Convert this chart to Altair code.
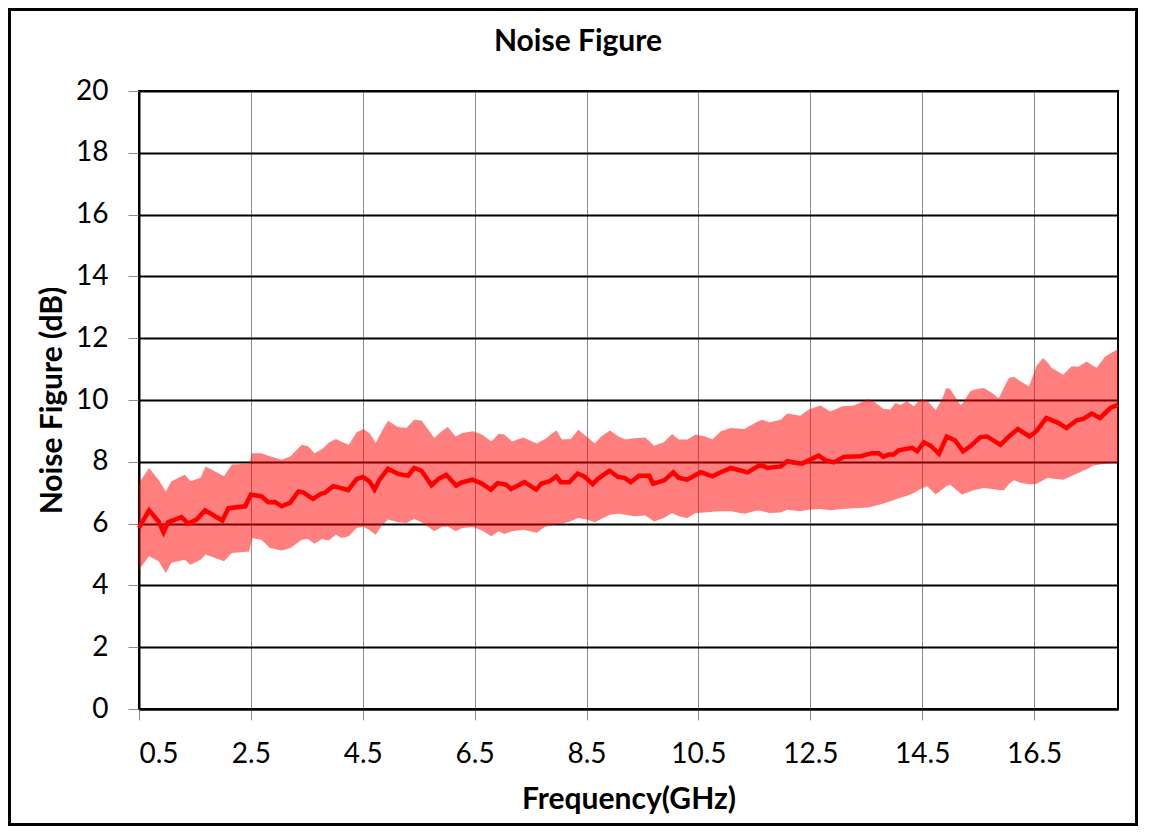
import altair as alt
import pandas as pd

# Mean noise figure trace (GHz, dB)
mean_freq = [0.50,0.68,0.85,0.94,1.02,1.26,1.38,1.53,1.68,1.86,
             1.99,2.10,2.40,2.50,2.69,2.81,2.93,3.05,3.20,3.35,
             3.43,3.61,3.76,3.82,3.97,4.12,4.24,4.39,4.50,4.62,
             4.71,4.80,4.95,5.13,5.31,5.42,5.55,5.73,5.85,5.99,
             6.17,6.26,6.46,6.61,6.79,6.91,7.06,7.15,7.39,7.60,
             7.69,7.84,7.96,8.04,8.19,8.34,8.46,8.61,8.70,8.91,
             9.06,9.18,9.29,9.44,9.62,9.69,9.89,10.05,10.15,10.30,
             10.54,10.75,10.90,11.08,11.38,11.61,11.73,11.97,12.09,12.20,
             12.35,12.50,12.65,12.77,12.92,13.10,13.40,13.60,13.72,13.81,
             13.90,13.99,14.08,14.32,14.41,14.53,14.65,14.80,14.94,15.09,
             15.23,15.36,15.54,15.66,15.90,16.05,16.21,16.42,16.54,16.72,
             16.93,17.08,17.26,17.38,17.53,17.68,17.86,18.00]
mean_nf = [5.86,6.43,6.07,5.72,6.04,6.21,6.00,6.13,6.43,6.24,
           6.10,6.50,6.56,6.94,6.88,6.69,6.70,6.56,6.67,7.04,
           7.01,6.80,6.97,6.99,7.21,7.15,7.08,7.44,7.51,7.37,
           7.10,7.42,7.77,7.61,7.55,7.80,7.71,7.24,7.44,7.58,
           7.23,7.33,7.42,7.31,7.10,7.31,7.26,7.12,7.34,7.10,
           7.29,7.37,7.53,7.34,7.34,7.62,7.53,7.28,7.44,7.71,
           7.51,7.48,7.34,7.55,7.55,7.29,7.40,7.66,7.48,7.42,
           7.66,7.53,7.66,7.80,7.66,7.91,7.80,7.85,8.02,7.98,
           7.94,8.07,8.20,8.05,7.98,8.16,8.18,8.28,8.28,8.16,
           8.24,8.24,8.37,8.45,8.34,8.63,8.52,8.26,8.82,8.69,
           8.34,8.50,8.80,8.82,8.55,8.82,9.06,8.82,8.99,9.42,
           9.26,9.09,9.34,9.39,9.56,9.42,9.74,9.85]

# Spread band (GHz, upper dB, lower dB)
band_freq = [0.50,0.68,0.85,0.98,1.08,1.32,1.42,1.60,1.69,1.86,
             2.02,2.16,2.47,2.52,2.69,2.84,3.05,3.21,3.41,
             3.52,3.64,3.77,3.89,4.02,4.12,4.25,4.39,4.51,4.63,
             4.73,4.84,4.95,5.13,5.28,5.42,5.55,5.78,5.91,6.02,
             6.16,6.28,6.47,6.63,6.80,6.93,7.03,7.17,7.37,7.61,
             7.76,7.96,8.06,8.22,8.35,8.50,8.65,8.76,8.92,9.07,
             9.20,9.35,9.55,9.71,9.88,10.03,10.15,10.30,10.45,10.62,
             10.75,10.90,11.08,11.32,11.55,11.64,11.77,11.97,12.09,
             12.32,12.47,12.68,12.86,13.07,13.28,13.54,13.66,13.81,13.93,
             14.02,14.11,14.23,14.35,14.47,14.59,14.74,14.86,14.93,
             15.00,15.18,15.21,15.36,15.42,15.60,15.75,15.87,15.96,16.05,
             16.14,16.26,16.41,16.54,16.66,16.75,16.81,17.02,17.17,17.29,
             17.44,17.56,17.62,17.77,18.00]
band_upper = [7.31,7.80,7.42,7.04,7.37,7.58,7.37,7.48,7.85,7.69,
              7.53,7.91,7.94,8.28,8.28,8.18,8.07,8.18,8.55,
              8.50,8.28,8.41,8.62,8.74,8.65,8.55,8.95,9.06,8.91,
              8.61,8.99,9.33,9.13,9.09,9.36,9.34,8.77,8.99,9.13,
              8.82,8.93,8.99,8.88,8.66,8.91,8.88,8.66,8.79,8.59,
              8.74,9.02,8.72,8.74,9.04,8.82,8.59,8.82,9.01,8.82,
              8.72,8.76,8.79,8.52,8.63,8.90,8.72,8.72,8.88,8.82,
              8.72,8.99,9.09,9.06,9.30,9.36,9.28,9.36,9.56,
              9.49,9.69,9.82,9.63,9.80,9.82,10.03,9.92,9.71,9.69,
              9.90,9.84,9.96,9.80,10.03,9.98,9.67,10.05,10.39,
              10.36,9.85,9.86,10.28,10.33,10.39,10.23,10.06,10.40,10.71,
              10.75,10.60,10.44,11.09,11.36,11.20,11.04,10.82,11.09,11.08,
              11.25,11.10,11.04,11.41,11.65]
band_lower = [4.51,4.94,4.78,4.40,4.73,4.83,4.67,4.83,5.00,4.89,
              4.78,5.05,5.10,5.53,5.48,5.21,5.13,5.21,5.48,
              5.50,5.35,5.50,5.45,5.64,5.53,5.59,5.86,5.91,5.78,
              5.64,5.93,6.13,6.04,6.02,6.15,6.04,5.75,5.89,5.91,
              5.75,5.86,5.89,5.78,5.59,5.75,5.66,5.75,5.80,5.70,
              5.90,5.98,6.00,6.08,6.18,6.13,6.04,6.15,6.29,6.32,
              6.29,6.24,6.26,6.07,6.18,6.34,6.24,6.18,6.34,6.36,
              6.38,6.40,6.40,6.32,6.42,6.40,6.34,6.36,6.45,
              6.40,6.45,6.47,6.43,6.47,6.50,6.52,6.58,6.65,6.72,
              6.78,6.84,6.90,6.99,7.12,7.21,6.94,7.10,7.21,
              7.26,6.98,6.94,7.04,7.08,7.15,7.12,7.09,7.08,7.28,
              7.40,7.32,7.27,7.28,7.40,7.48,7.46,7.42,7.54,7.64,
              7.76,7.88,7.90,7.94,7.98]

x_ticks = [0.5, 2.5, 4.5, 6.5, 8.5, 10.5, 12.5, 14.5, 16.5]
y_ticks = [0, 2, 4, 6, 8, 10, 12, 14, 16, 18, 20]
chart_title = "Noise Figure"

band_df = pd.DataFrame({"freq": band_freq, "upper": band_upper, "lower": band_lower})
mean_df = pd.DataFrame({"freq": mean_freq, "nf": mean_nf})

W, H = 979, 618
PAD = {"left": 131, "top": 83, "right": 20, "bottom": 117}

x_scale = alt.Scale(domain=[0.5, 18], nice=False, zero=False)
y_scale = alt.Scale(domain=[0, 20], nice=False)

band = alt.Chart(band_df).mark_area(color="#FF0000", opacity=0.5).encode(
    x=alt.X("freq:Q", scale=x_scale,
            axis=alt.Axis(values=x_ticks, format=".1f", title="Frequency(GHz)",
                          grid=True, gridColor="#8c8c8c", gridWidth=1,
                          tickColor="#8c8c8c", tickSize=11, tickWidth=1,
                          domainColor="black", domainWidth=2,
                          labelPadding=20, titlePadding=16)),
    y=alt.Y("upper:Q", scale=y_scale,
            axis=alt.Axis(values=y_ticks, title="Noise Figure (dB)",
                          grid=True, gridColor="black", gridWidth=2,
                          tickColor="#8c8c8c", tickSize=11, tickWidth=1,
                          domainColor="black", domainWidth=2,
                          labelPadding=20, titlePadding=8)),
    y2="lower:Q",
)

line = alt.Chart(mean_df).mark_line(color="#FF0000", strokeWidth=4.5).encode(
    x="freq:Q", y="nf:Q"
)

# outer frame around the whole figure
frame = alt.Chart(alt.Data(values=[{"k": 1}])).mark_rect(
    fill="transparent", stroke="black", strokeWidth=3
).encode(
    x=alt.value(-PAD["left"] + 1.5), x2=alt.value(W + PAD["right"] - 1.5),
    y=alt.value(-PAD["top"] + 1.5), y2=alt.value(H + PAD["bottom"] - 1.5),
)

# chart title, centred on the figure
title = alt.Chart(alt.Data(values=[{"t": chart_title}])).mark_text(
    font="Lato", fontSize=30, fontWeight="bold", color="black",
    align="center", baseline="middle"
).encode(text="t:N", x=alt.value(439), y=alt.value(-49))

chart = alt.layer(frame, band, line, title).properties(
    width=W, height=H,
    padding=PAD,
    autosize="none",
    background="white",
).configure_axis(
    labelFont="Lato", labelFontSize=28, labelColor="black",
    titleFont="Lato", titleFontSize=30, titleFontWeight="bold", titleColor="black",
).configure_view(stroke="black", strokeWidth=2)

chart.save("out.html", embed_options={"renderer": "svg", "actions": False})
